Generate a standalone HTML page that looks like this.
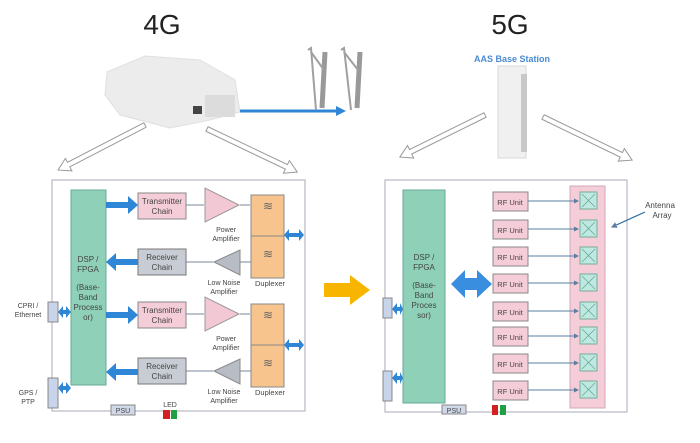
<!DOCTYPE html>
<html><head><meta charset="utf-8"><style>
html,body{margin:0;padding:0;background:#fff;}
svg{display:block;font-family:"Liberation Sans",sans-serif;}
</style></head><body>
<svg width="700" height="443" viewBox="0 0 700 443" xmlns="http://www.w3.org/2000/svg">
<defs>
<marker id="sm" markerWidth="5" markerHeight="5" refX="4" refY="2.5" orient="auto"><path d="M0,0 L5,2.5 L0,5 z" fill="#5a7fa0"/></marker>
</defs>
<text x="162" y="34" font-size="28" text-anchor="middle" fill="#222">4G</text>
<text x="510" y="34" font-size="28" text-anchor="middle" fill="#222">5G</text>
<text x="512" y="62" font-size="9" font-weight="bold" text-anchor="middle" fill="#4a8ad0">AAS Base Station</text>
<!-- 4G device -->
<path d="M107,72 L145,56 L200,60 L235,80 L240,112 L210,120 L170,128 L120,115 L105,95 Z" fill="#ececec" stroke="#e0e0e0"/>
<rect x="193" y="106" width="9" height="8" fill="#444"/>
<rect x="205" y="95" width="30" height="22" fill="#dcdcdc"/>
<line x1="240" y1="111" x2="338" y2="111" stroke="#2f86d6" stroke-width="3"/>
<polygon points="336,106 346,111 336,116" fill="#2f86d6"/>
<!-- antennas -->
<g stroke="#999" stroke-width="5" fill="none">
<line x1="325" y1="52" x2="322" y2="108"/><line x1="360" y1="52" x2="357" y2="108"/>
</g>
<g stroke="#a0a0a0" stroke-width="2" fill="none">
<polyline points="308,50 311,48 316,110"/><polyline points="341,50 344,48 351,110"/>
<line x1="311" y1="52" x2="324" y2="70"/><line x1="344" y1="52" x2="358" y2="70"/>
</g>
<!-- 5G panel -->
<rect x="498" y="66" width="28" height="92" fill="#f0f0f0" stroke="#d8d8d8"/>
<rect x="521" y="74" width="6" height="78" fill="#c8c8c8"/>
<!-- hollow arrows -->
<g fill="#fff" stroke="#999" stroke-width="1">
<polygon transform="translate(145,125) rotate(152.6)" points="0,-2.5 86,-2.5 86,-7 98,0 86,7 86,2.5 0,2.5"/>
<polygon transform="translate(207,129) rotate(25.5)" points="0,-2.5 88,-2.5 88,-7 100,0 88,7 88,2.5 0,2.5"/>
<polygon transform="translate(485,115) rotate(153.7)" points="0,-2.5 83,-2.5 83,-7 95,0 83,7 83,2.5 0,2.5"/>
<polygon transform="translate(543,117) rotate(25.8)" points="0,-2.5 87,-2.5 87,-7 99,0 87,7 87,2.5 0,2.5"/>
</g>
<polygon points="324,283 350,283 350,275 370,290 350,305 350,297 324,297" fill="#f7b500"/>

<!-- LEFT FRAME -->
<rect x="52" y="180" width="253" height="231" fill="none" stroke="#aab" stroke-width="1"/>
<rect x="71" y="190" width="35" height="195" fill="#8fd1b8" stroke="#6a9" />
<text font-size="8" fill="#444" text-anchor="middle"><tspan x="88" y="262">DSP /</tspan><tspan x="88" y="272">FPGA</tspan><tspan x="88" y="290">(Base-</tspan><tspan x="88" y="300">Band</tspan><tspan x="88" y="310">Process</tspan><tspan x="88" y="320">or)</tspan></text>
<g fill="#2f86d6">
<polygon points="106,202 128,202 128,196 138,205 128,214 128,208 106,208"/>
<polygon points="138,259 116,259 116,253 106,262 116,271 116,265 138,265"/>
<polygon points="106,312 128,312 128,306 138,315 128,324 128,318 106,318"/>
<polygon points="138,369 116,369 116,363 106,372 116,381 116,375 138,375"/>
<polygon points="58,312 63,306 63,310 66,310 66,306 71,312 66,318 66,314 63,314 63,318"/>
<polygon points="58,388 63,382 63,386 66,386 66,382 71,388 66,394 66,390 63,390 63,394"/>
<polygon points="284,235 289,229 289,233 299,233 299,229 304,235 299,241 299,237 289,237 289,241"/>
<polygon points="284,345 289,339 289,343 299,343 299,339 304,345 299,351 299,347 289,347 289,351"/>
</g>
<g font-size="8" fill="#444" text-anchor="middle">
<g id="grp">
<rect x="138" y="193" width="48" height="26" fill="#f5cdd8" stroke="#888"/>
<text x="162" y="204">Transmitter</text><text x="162" y="214">Chain</text>
<line x1="186" y1="205" x2="204" y2="205" stroke="#789"/>
<polygon points="205,188 205,222 239,205" fill="#f2c8d4" stroke="#999"/>
<line x1="240" y1="205" x2="250" y2="205" stroke="#789"/>
<text x="226" y="232" font-size="7">Power</text><text x="226" y="241" font-size="7">Amplifier</text>
<rect x="138" y="249" width="48" height="26" fill="#c8ccd4" stroke="#777"/>
<text x="162" y="260">Receiver</text><text x="162" y="270">Chain</text>
<line x1="186" y1="262" x2="213" y2="262" stroke="#789"/>
<polygon points="240,250 240,275 214,262" fill="#b8bcc4" stroke="#888"/>
<line x1="240" y1="262" x2="251" y2="262" stroke="#789"/>
<text x="224" y="285" font-size="7">Low Noise</text><text x="224" y="294" font-size="7">Amplifier</text>
<rect x="251" y="195" width="33" height="41" fill="#f8c48e" stroke="#888"/>
<rect x="251" y="236" width="33" height="42" fill="#f8c48e" stroke="#888"/>
<text x="268" y="210" font-size="12" fill="#666">≋</text><text x="268" y="258" font-size="12" fill="#666">≋</text>
<text x="270" y="286" font-size="7.5">Duplexer</text>
</g>
<use href="#grp" y="109"/>
<text x="28" y="308" font-size="7">CPRI /</text><text x="28" y="317" font-size="7">Ethernet</text>
<text x="28" y="395" font-size="7">GPS /</text><text x="28" y="404" font-size="7">PTP</text>
<text x="170" y="407" font-size="7">LED</text>
</g>
<rect x="48" y="302" width="10" height="20" fill="#c8d4ea" stroke="#888"/>
<rect x="48" y="378" width="10" height="30" fill="#c8d4ea" stroke="#888"/>
<rect x="111" y="405" width="24" height="10" fill="#d0d8e8" stroke="#888"/>
<text x="123" y="413" font-size="7" text-anchor="middle" fill="#444">PSU</text>
<rect x="163" y="410" width="7" height="9" fill="#d42020"/>
<rect x="171" y="410" width="6" height="9" fill="#20a040"/>

<!-- RIGHT FRAME -->
<rect x="385" y="180" width="242" height="232" fill="none" stroke="#aab"/>
<rect x="403" y="190" width="42" height="213" fill="#8fd1b8" stroke="#6a9"/>
<text font-size="8" fill="#444" text-anchor="middle"><tspan x="424" y="260">DSP /</tspan><tspan x="424" y="270">FPGA</tspan><tspan x="424" y="288">(Base-</tspan><tspan x="424" y="298">Band</tspan><tspan x="424" y="308">Proces</tspan><tspan x="424" y="318">sor)</tspan></text>
<polygon points="451,284 465,270 465,278 477,278 477,270 492,284 477,298 477,290 465,290 465,298" fill="#3a8ee0"/>
<polygon points="392,309 397,303 397,307 400,307 400,303 403,309 400,315 400,311 397,311 397,315" fill="#2f86d6"/>
<polygon points="392,378 397,372 397,376 400,376 400,372 403,378 400,384 400,380 397,380 397,384" fill="#2f86d6"/>
<rect x="383" y="298" width="9" height="20" fill="#c8d4ea" stroke="#888"/>
<rect x="383" y="371" width="9" height="30" fill="#c8d4ea" stroke="#888"/>
<rect x="442" y="405" width="24" height="9" fill="#d0d8e8" stroke="#888"/>
<text x="454" y="413" font-size="7" text-anchor="middle" fill="#444">PSU</text>
<rect x="492" y="405" width="6" height="10" fill="#d42020"/>
<rect x="500" y="405" width="6" height="10" fill="#20a040"/>
<rect x="570" y="186" width="35" height="222" fill="#f5cdd8" stroke="#d0a8b8"/>
<g font-size="7.5" fill="#444" text-anchor="middle">
<g id="rf">
<rect x="493" y="192" width="35" height="19" fill="#f5cdd8" stroke="#888"/>
<text x="510" y="205">RF Unit</text>
<line x1="528" y1="201" x2="578" y2="201" stroke="#5a7fa0" marker-end="url(#sm)"/>
<rect x="580" y="192" width="17" height="17" fill="#bfe8e0" stroke="#7a9"/>
<path d="M582,194 L595,207 M595,194 L582,207" stroke="#6a9" stroke-width="0.8"/>
</g>
<use href="#rf" y="28"/><use href="#rf" y="55"/><use href="#rf" y="82"/>
<use href="#rf" y="110"/><use href="#rf" y="135"/><use href="#rf" y="162"/><use href="#rf" y="189"/>
<text x="660" y="208" font-size="8">Antenna</text><text x="662" y="218" font-size="8">Array</text>
</g>
<line x1="645" y1="212" x2="612" y2="227" stroke="#2f6f9f" stroke-width="1.2" marker-end="url(#sm)"/>
</svg>
</body></html>
